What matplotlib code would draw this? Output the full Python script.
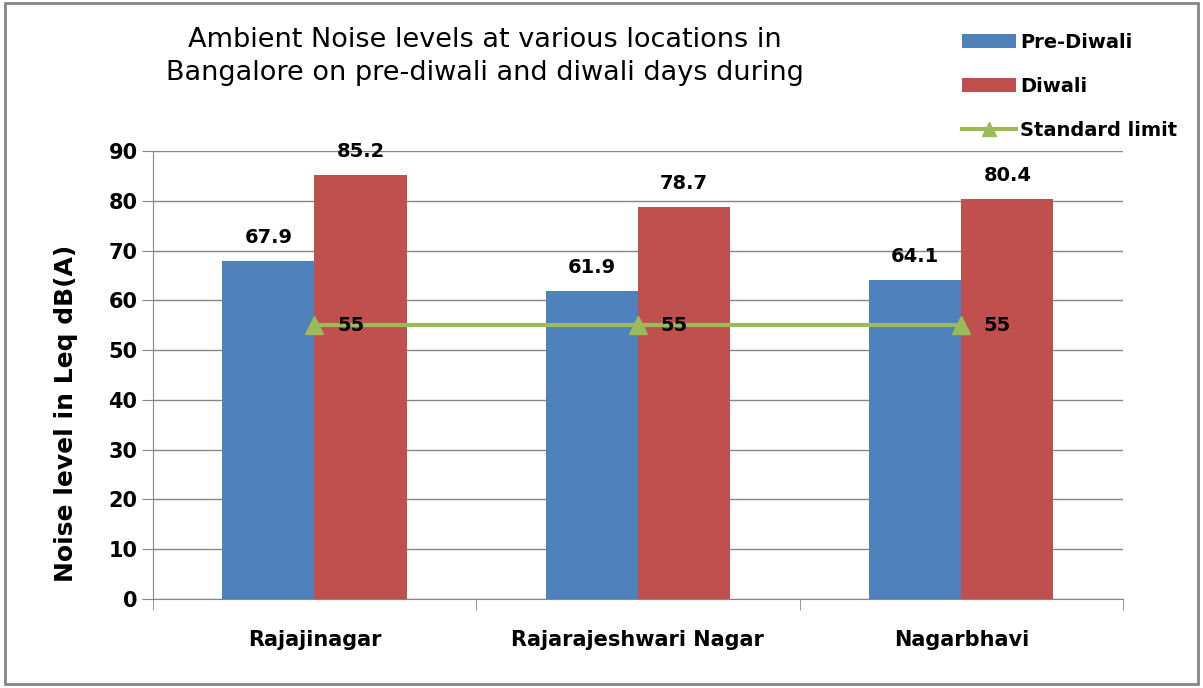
import numpy as np
import matplotlib.pyplot as plt

# Noise levels at three Bangalore locations
locations = ["Rajajinagar", "Rajarajeshwari Nagar", "Nagarbhavi"]
pre_diwali = [67.9, 61.9, 64.1]
diwali = [85.2, 78.7, 80.4]
standard_limit = [55, 55, 55]

blue = "#4F81BD"
red = "#C0504D"
green = "#9BBB59"

fig = plt.figure(figsize=(12.03, 6.88), dpi=100)
ax = fig.add_axes([0.127, 0.1294, 0.8065, 0.6511])

x = np.arange(len(locations))
w = 0.285
b1 = ax.bar(x - w/2, pre_diwali, w, color=blue, label="Pre-Diwali", zorder=2)
b2 = ax.bar(x + w/2, diwali, w, color=red, label="Diwali", zorder=2)
ln, = ax.plot(x, standard_limit, color=green, lw=3, marker="^", ms=13,
              label="Standard limit", zorder=3)

for xi, v in zip(x - w/2, pre_diwali):
    ax.text(xi, v + 2.8, f"{v}", ha="center", va="bottom", fontsize=14, fontweight="bold")
for xi, v in zip(x + w/2, diwali):
    ax.text(xi, v + 2.8, f"{v}", ha="center", va="bottom", fontsize=14, fontweight="bold")
for xi, v in zip(x, standard_limit):
    ax.text(xi + 0.07, v, f"{v}", ha="left", va="center", fontsize=14, fontweight="bold", zorder=4)

ax.set_xlim(-0.5, 2.5)
ax.set_ylim(0, 90)
ax.set_yticks(range(0, 91, 10))
ax.yaxis.grid(True, color="#868686", lw=1, zorder=0)
ax.set_xticks(x)
ax.set_xticklabels(locations, fontsize=15, fontweight="bold")
ax.set_xticks([-0.5, 0.5, 1.5, 2.5], minor=True)
ax.tick_params(axis="x", which="major", length=0, pad=22)
ax.tick_params(axis="x", which="minor", length=8, color="#868686")
ax.tick_params(axis="y", length=8, color="#868686", labelsize=15, pad=3)
for lab in ax.get_yticklabels():
    lab.set_fontweight("bold")
for s in ["top", "right"]:
    ax.spines[s].set_visible(False)
for s in ["left", "bottom"]:
    ax.spines[s].set_color("#868686")

ax.set_ylabel("Noise level in Leq dB(A)", fontsize=18, fontweight="bold")
ax.yaxis.set_label_coords(-0.077, 0.415)

fig.text(0.403, 0.918, "Ambient Noise levels at various locations in\nBangalore on pre-diwali and diwali days during",
         ha="center", va="center", fontsize=19.5, linespacing=1.35)

fig.legend(handles=[b1, b2, ln], loc="upper left", bbox_to_anchor=(0.785, 0.978),
           frameon=False, prop={"weight": "bold", "size": 14},
           handlelength=2.8, handletextpad=0.2, labelspacing=1.3, markerscale=0.8)

fig.patches.append(plt.Rectangle((0.004, 0.006), 0.992, 0.99, transform=fig.transFigure,
                                 fill=False, edgecolor="#868686", lw=2))

fig.savefig("out.png", dpi=100)
